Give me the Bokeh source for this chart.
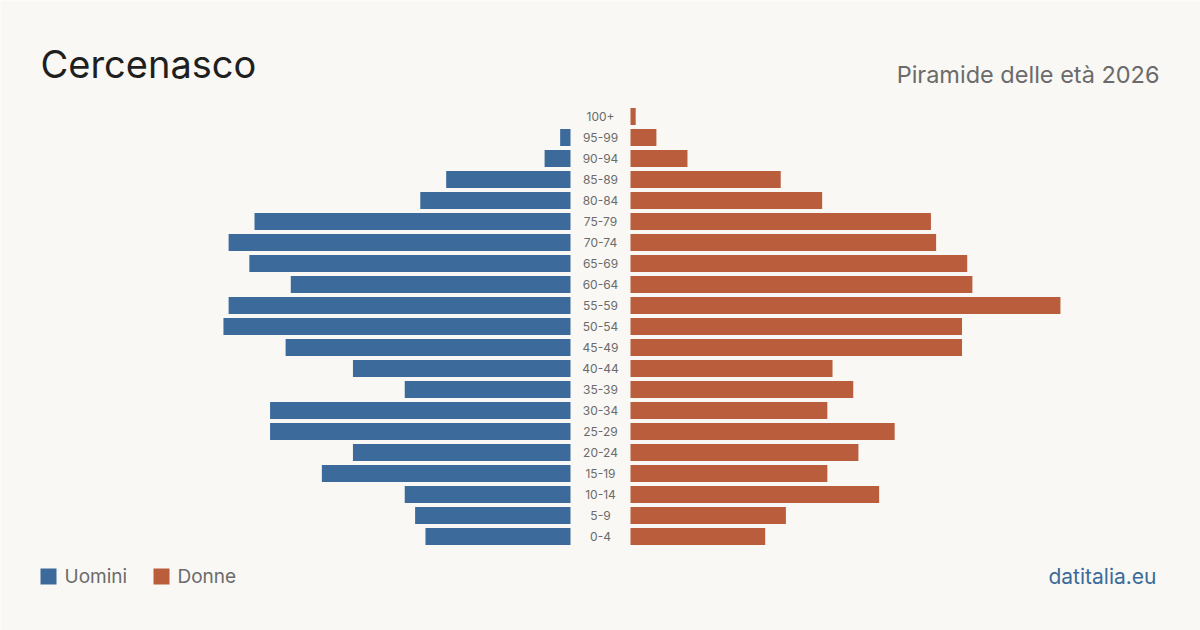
from bokeh.plotting import figure
from bokeh.models import ColumnDataSource, Range1d, Label, BoxAnnotation
from bokeh.core.properties import value
from bokeh.embed import file_html
from bokeh.resources import INLINE

# ---- data ----
age_groups = ["0-4", "5-9", "10-14", "15-19", "20-24", "25-29", "30-34", "35-39",
              "40-44", "45-49", "50-54", "55-59", "60-64", "65-69", "70-74",
              "75-79", "80-84", "85-89", "90-94", "95-99", "100+"]
men = [28, 30, 32, 48, 42, 58, 58, 32, 42, 55, 67, 66, 54, 62, 66, 61, 29, 24, 5, 2, 0]
women = [26, 30, 48, 38, 44, 51, 38, 43, 39, 64, 64, 83, 66, 65, 59, 58, 37, 29, 11, 5, 1]

title = "Cercenasco"
subtitle = "Piramide delle età 2026"
legend_labels = ["Uomini", "Donne"]
source_label = "datitalia.eu"

# ---- style ----
BG = "#f9f8f4"
BLUE = "#3c6b9b"
ORANGE = "#b95d3d"
FONT = "Inter"

W, H = 1200, 630
px_per_unit = 5.18
gap = 30 / px_per_unit
half = (W / 2) / px_per_unit
row_px = 21
y0_px = 536  # screen y (from top) of first row centre

idx = list(range(len(age_groups)))
src = ColumnDataSource(dict(
    y=idx,
    age=age_groups,
    m_left=[-(gap + v) for v in men],
    m_right=[-gap] * len(men),
    f_left=[gap] * len(women),
    f_right=[gap + v for v in women],
    zero=[0] * len(idx),
))

p = figure(width=W, height=H, output_backend="svg", toolbar_location=None,
           x_range=Range1d(-half, half),
           y_range=Range1d(-(H - y0_px) / row_px, y0_px / row_px),
           min_border=0, background_fill_color=BG, border_fill_color=BG,
           outline_line_color=None)
p.axis.visible = False
p.grid.visible = False

bh = 17 / row_px
p.hbar(y="y", left="m_left", right="m_right", height=bh, fill_color=BLUE,
       line_color=None, source=src)
p.hbar(y="y", left="f_left", right="f_right", height=bh, fill_color=ORANGE,
       line_color=None, source=src)

p.text(x="zero", y="y", text="age", source=src, text_align="center",
       text_baseline="middle", text_font=value(FONT), text_font_size="12px",
       text_color="#6b6b6b")

# title & subtitle
p.add_layout(Label(x=40, y=H - 63, x_units="screen", y_units="screen", text=title,
                   text_font=FONT, text_font_size="38px", text_color="#1f1f1f",
                   text_baseline="alphabetic"))
p.add_layout(Label(x=1159, y=H - 74, x_units="screen", y_units="screen", text=subtitle,
                   text_font=FONT, text_font_size="23.5px", text_color="#6b6b6b",
                   text_align="right", text_baseline="alphabetic"))

# legend
for (x0, lab, col) in [(40, legend_labels[0], BLUE), (153, legend_labels[1], ORANGE)]:
    p.add_layout(BoxAnnotation(left=x0, right=x0 + 16, top=H - 568, bottom=H - 584,
                               left_units="screen", right_units="screen",
                               top_units="screen", bottom_units="screen",
                               fill_color=col, fill_alpha=1, line_color=None))
    p.add_layout(Label(x=x0 + 24, y=H - 576, x_units="screen", y_units="screen",
                       text=lab, text_font=FONT, text_font_size="19px",
                       text_color="#6b6b6b", text_baseline="alphabetic"))

p.add_layout(Label(x=1156, y=H - 576, x_units="screen", y_units="screen",
                   text=source_label, text_font=FONT, text_font_size="21px",
                   text_color=BLUE, text_align="right", text_baseline="alphabetic"))

open("out.html", "w").write(file_html(p, INLINE))
